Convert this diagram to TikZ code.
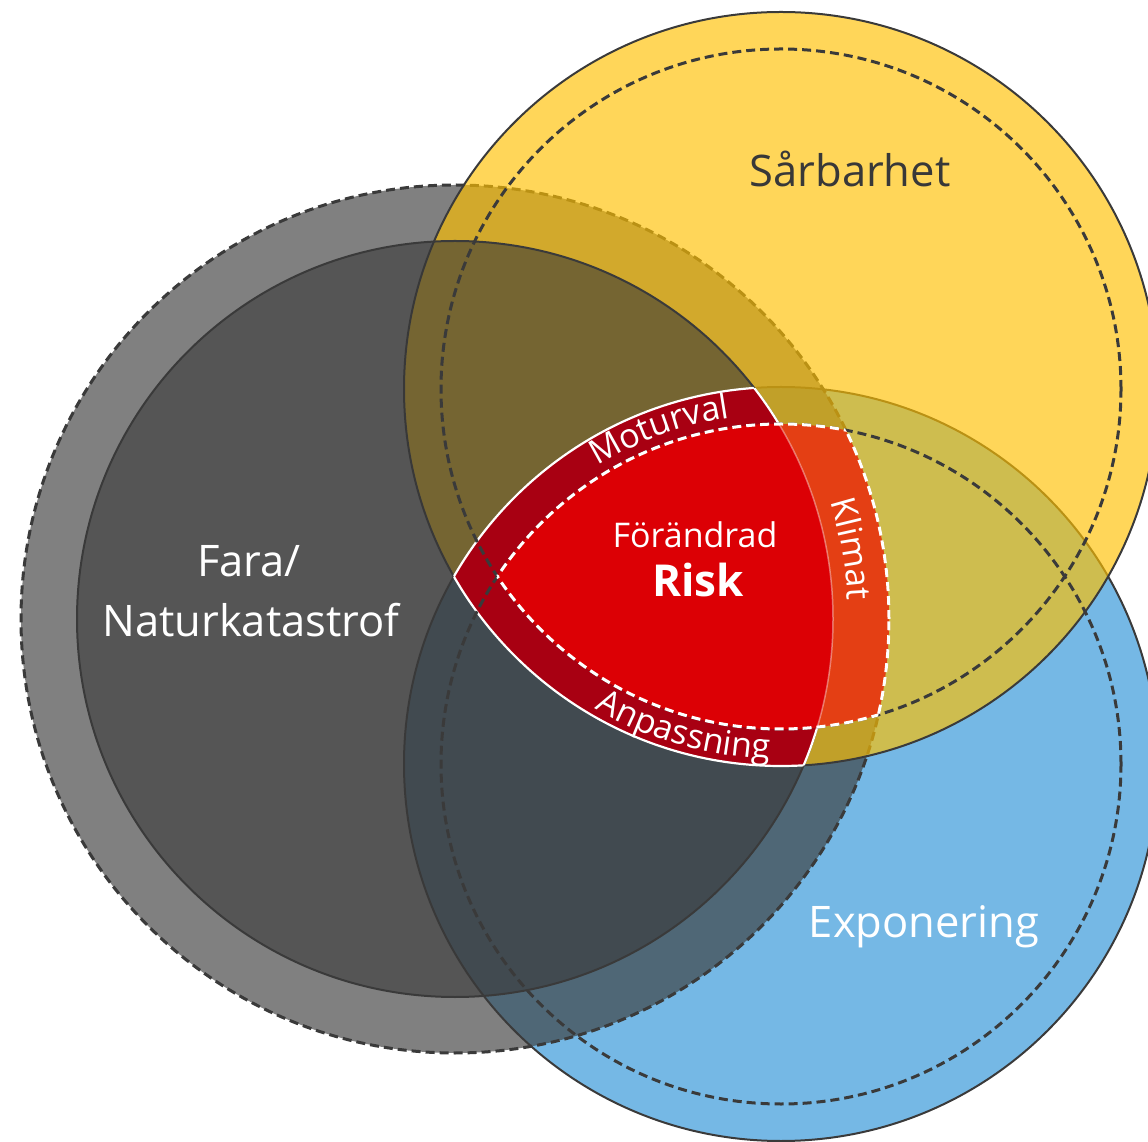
\documentclass[tikz,border=0pt]{standalone}
\usepackage{fontspec}
\setmainfont{Open Sans}
\usetikzlibrary{decorations.text}
\definecolor{RiskBlue}{HTML}{75B8E5}
\definecolor{RiskAsh}{HTML}{3C3C3C}
\definecolor{RiskSun}{HTML}{FFC000}
\definecolor{RiskSlate}{HTML}{383838}
\definecolor{RiskLine}{HTML}{3A3A3A}
\definecolor{RiskWine}{HTML}{A80012}
\definecolor{RiskRed}{HTML}{DC0005}
\definecolor{RiskFlame}{HTML}{E43F14}
\definecolor{RiskInk}{HTML}{383838}

\begin{document}
\begin{tikzpicture}[x=1pt, y=1pt,
  rim/.style={draw=RiskLine, line width=2pt},
  dashrim/.style={dash pattern=on 9pt off 5pt, line width=3pt},
  bigtext/.style={font=\fontsize{43.5}{52}\selectfont, anchor=base},
  bandtext/.style={decorate, decoration={text along path, text align=center,
    text color=white, text={|\fontsize{34}{40}\selectfont|#1}}}]
  \useasboundingbox (0,0) rectangle (1148,1141);
  \clip (0,0) rectangle (1148,1141);
  \coordinate (haz) at (455,522);
  \coordinate (vul) at (781,752);
  \coordinate (expo) at (781,377);
  % the three circles
  \fill[RiskBlue] (expo) circle[radius=377];
  \draw[rim] (expo) circle[radius=377];
  \fill[RiskAsh, fill opacity=.65] (haz) circle[radius=434];
  \draw[RiskLine, dashrim] (haz) circle[radius=434];
  \filldraw[fill=RiskSun, fill opacity=.65, rim] (vul) circle[radius=377];
  \filldraw[fill=RiskSlate, fill opacity=.6, rim] (haz) circle[radius=378];
  % risk lens
  \begin{scope}
    \clip (expo) circle[radius=377];
    \clip (vul) circle[radius=377];
    \fill[RiskWine] (haz) circle[radius=378];
  \end{scope}
  \begin{scope}
    \clip (vul) circle[radius=377];
    \clip (haz) circle[radius=378];
    \draw[white, line width=2.2pt] (expo) circle[radius=377];
  \end{scope}
  \begin{scope}
    \clip (expo) circle[radius=377];
    \clip (haz) circle[radius=378];
    \draw[white, line width=2.2pt] (vul) circle[radius=377];
  \end{scope}
  \begin{scope}
    \clip (expo) circle[radius=377];
    \clip (vul) circle[radius=377];
    \draw[white, line width=2.2pt] (haz) circle[radius=378];
  \end{scope}
  \draw[RiskLine, dashrim] (vul) circle[radius=340];
  \draw[RiskLine, dashrim] (expo) circle[radius=340];
  \begin{scope}
    \clip (expo) circle[radius=340];
    \clip (vul) circle[radius=340];
    \fill[RiskFlame] (haz) circle[radius=434];
    \fill[RiskRed] (haz) circle[radius=378];
    \draw[white, opacity=.4, line width=1.5pt] (haz) circle[radius=378];
    \draw[white, dashrim] (haz) circle[radius=434];
  \end{scope}
  \begin{scope}
    \clip (vul) circle[radius=340];
    \clip (haz) circle[radius=434];
    \draw[white, dashrim] (expo) circle[radius=340];
  \end{scope}
  \begin{scope}
    \clip (expo) circle[radius=340];
    \clip (haz) circle[radius=434];
    \draw[white, dashrim] (vul) circle[radius=340];
  \end{scope}
  % labels
  \node[bigtext, text=RiskInk] (sarb) at (850,954) {Sårbarhet};
  \node[bigtext, text=white] (fara) at (249,564) {Fara/};
  \node[bigtext, text=white] (natur) at (251,504) {Naturkatastrof};
  \node[bigtext, text=white] (expon) at (924,204) {Exponering};
  \node[font=\fontsize{34}{40}\selectfont, anchor=base, text=white] (forand) at (695,593) {Förändrad};
  \node[anchor=base, font={\fontsize{44}{52}\selectfont\bfseries}, text=white] (risk) at (698,544) {Risk};
  \path[bandtext=Moturval] (expo) ++(130:350) arc[start angle=130, end angle=90, radius=350];
  \path[bandtext=Anpassning] (vul) ++(-126:370) arc[start angle=-126, end angle=-86, radius=370];
  \path[bandtext=Klimat] (haz) ++(30:393) arc[start angle=30, end angle=-10, radius=393];
\end{tikzpicture}
\end{document}
